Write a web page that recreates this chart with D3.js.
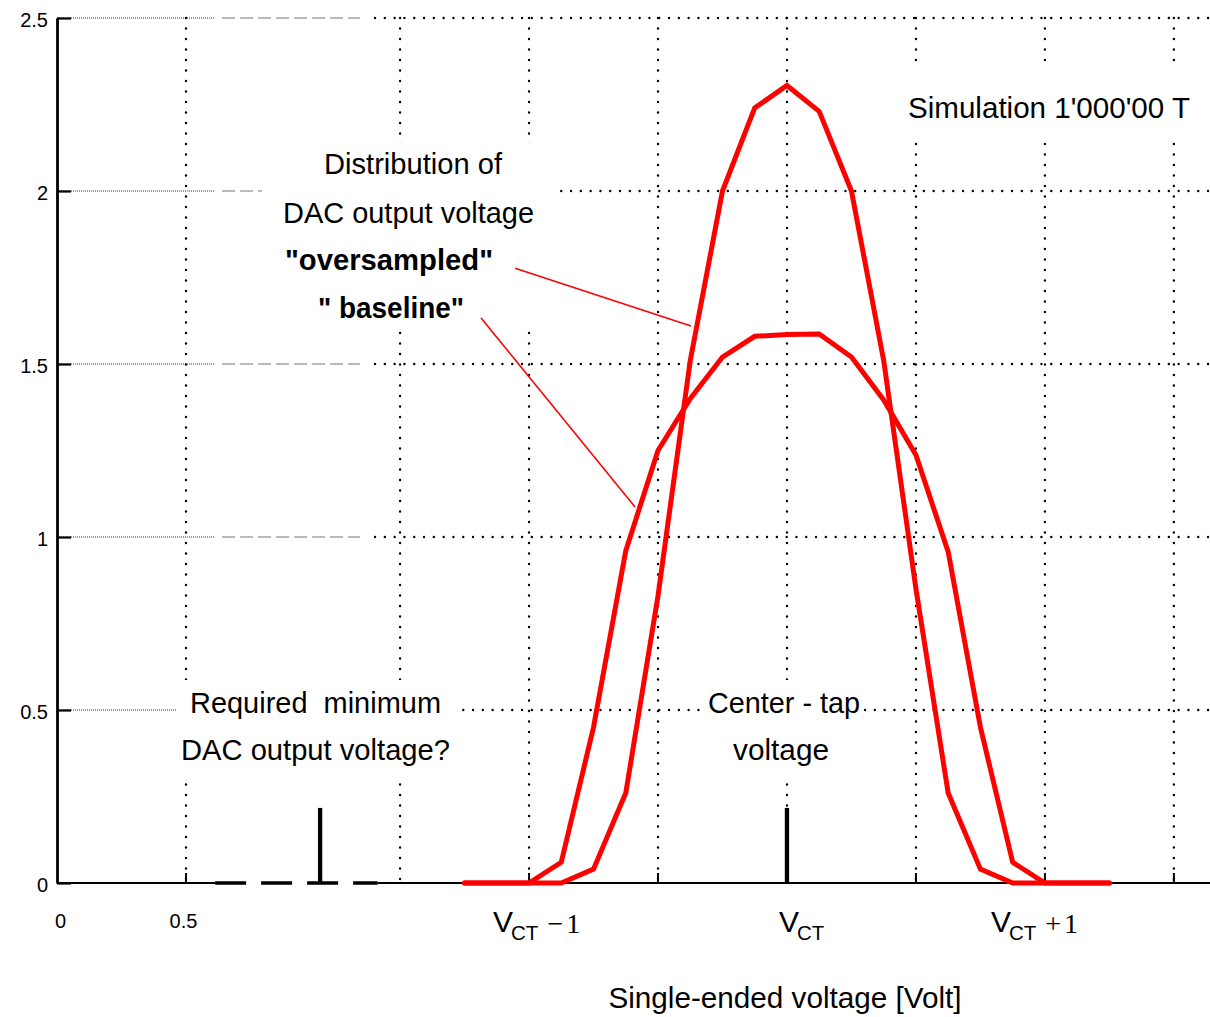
<!DOCTYPE html>
<html>
<head>
<meta charset="utf-8">
<script src="https://cdn.jsdelivr.net/npm/d3@7"></script>
<style>
  html, body { margin: 0; padding: 0; background: #fff; }
  svg { display: block; }
  text { font-family: "Liberation Sans", Arial, sans-serif; fill: #000; }
</style>
</head>
<body>
<svg id="chart" width="1210" height="1017"></svg>
<script>
// Voltage offsets from the centre-tap voltage (V)
const offsets = [-1.25, -1.125, -1, -0.875, -0.75, -0.625, -0.5, -0.375, -0.25, -0.125, 0,
                 0.125, 0.25, 0.375, 0.5, 0.625, 0.75, 0.875, 1, 1.125, 1.25];
// Distribution of the DAC output voltage, baseline modulator
const baselineDensity = [0, 0, 0, 0.06, 0.45, 0.96, 1.25, 1.40, 1.52, 1.58, 1.585,
                         1.587, 1.52, 1.396, 1.237, 0.957, 0.45, 0.06, 0, 0, 0];
// Distribution of the DAC output voltage, oversampled modulator
const oversampledDensity = [0, 0, 0, 0, 0.04, 0.26, 0.83, 1.51, 2.0, 2.24, 2.305,
                            2.23, 2.0, 1.51, 0.85, 0.26, 0.04, 0, 0, 0, 0];

const vCT = 2.83;          // centre-tap voltage on the axis
const vMin = 1.02;         // required minimum DAC output voltage
const markerHeight = 0.217;

const yTicks = [0, 0.5, 1, 1.5, 2, 2.5];
const yTickLabels = ["0", "0.5", "1", "1.5", "2", "2.5"];
const xTicks = [0, 0.5];
const xTickLabels = ["0", "0.5"];
const vctOffsets = [-1, 0, 1];
const vctSuffixes = ["\u22121", "", "+1"];
const gridOffsets = [-1.5, -1, -0.5, 0, 0.5, 1, 1.5];

const distributionLines = ["Distribution of", "DAC output voltage", "\"oversampled\"", "\" baseline\""];
const simulationLabel = "Simulation 1'000'00 T";
const minimumLines = ["Required  minimum", "DAC output voltage?"];
const centerTapLines = ["Center - tap", "voltage"];
const xTitle = "Single-ended voltage [Volt]";

// ---------------------------------------------------------------
const W = 1210, H = 1017;
const svg = d3.select("#chart");
svg.append("rect").attr("width", W).attr("height", H).attr("fill", "#fff");

const xMax = 4.47;
const x = d3.scaleLinear().domain([0, xMax]).range([57, 1210]);
const y = d3.scaleLinear().domain([0, 2.5]).range([883, 18]);

const gridG = svg.append("g");
const maskG = svg.append("g");
const axisG = svg.append("g");
const plotG = svg.append("g");
const textG = svg.append("g");

// Broken section of the voltage axis
const breakLo = 0.613, breakHi = 1.233;

// Horizontal grid
yTicks.filter(v => v > 0).forEach(v => {
  gridG.append("line")
    .attr("x1", x(0)).attr("x2", x(breakLo)).attr("y1", y(v)).attr("y2", y(v))
    .attr("stroke", "#333").attr("stroke-width", 1).attr("stroke-dasharray", "1,1");
  gridG.append("line")
    .attr("x1", x(breakLo + 0.027)).attr("x2", x(breakHi - 0.058)).attr("y1", y(v)).attr("y2", y(v))
    .attr("stroke", "#a3a3a3").attr("stroke-width", 1.6).attr("stroke-dasharray", "13,5");
  gridG.append("line")
    .attr("x1", x(breakHi)).attr("x2", x(xMax)).attr("y1", y(v)).attr("y2", y(v))
    .attr("stroke", "#000").attr("stroke-width", 2.4).attr("stroke-linecap", "round")
    .attr("stroke-dasharray", "0,9.8");
});

// Vertical grid
const gridX = [0.5].concat(gridOffsets.map(o => vCT + o));
gridX.forEach(v => {
  gridG.append("line")
    .attr("x1", x(v)).attr("x2", x(v)).attr("y1", y(2.5)).attr("y2", y(0))
    .attr("stroke", "#000").attr("stroke-width", 2.4).attr("stroke-linecap", "round")
    .attr("stroke-dasharray", "0,10.5");
});

// Y axis
const yAxis = d3.axisLeft(y)
  .tickValues(yTicks)
  .tickFormat((d, i) => yTickLabels[i])
  .tickSizeInner(-14).tickSizeOuter(0).tickPadding(9);
const yAxisG = axisG.append("g").attr("transform", `translate(${x(0)},0)`).call(yAxis);
yAxisG.select(".domain").attr("stroke", "#000").attr("stroke-width", 2.8);
yAxisG.selectAll(".tick line").attr("stroke", "#000").attr("stroke-width", 2.2);
yAxisG.selectAll(".tick text")
  .attr("font-family", "Liberation Sans, Arial, sans-serif")
  .attr("font-size", 20).attr("dy", "0.4em");

// X axis line, with the broken section drawn dashed
axisG.append("line").attr("x1", x(0)).attr("x2", x(breakLo)).attr("y1", y(0)).attr("y2", y(0))
  .attr("stroke", "#000").attr("stroke-width", 1.8);
axisG.append("line").attr("x1", x(breakLo)).attr("x2", x(breakHi + 0.01)).attr("y1", y(0)).attr("y2", y(0))
  .attr("stroke", "#000").attr("stroke-width", 3.6).attr("stroke-dasharray", "31,15");
axisG.append("line").attr("x1", x(breakHi + 0.01)).attr("x2", x(xMax)).attr("y1", y(0)).attr("y2", y(0))
  .attr("stroke", "#000").attr("stroke-width", 1.8);

// Short x ticks
const xTickMarks = [0.5].concat(gridOffsets.filter(o => o > -1.5).map(o => vCT + o));
axisG.selectAll("line.xtick").data(xTickMarks).enter().append("line")
  .attr("class", "xtick")
  .attr("x1", d => x(d)).attr("x2", d => x(d))
  .attr("y1", y(0)).attr("y2", y(0) - 10)
  .attr("stroke", "#000").attr("stroke-width", 2);

// Numeric x labels
const xAxis = d3.axisBottom(x).tickValues(xTicks)
  .tickFormat((d, i) => xTickLabels[i]).tickSize(0).tickPadding(31);
const xAxisG = axisG.append("g").attr("transform", `translate(0,${y(0)})`).call(xAxis);
xAxisG.select(".domain").remove();
xAxisG.selectAll(".tick text")
  .attr("font-family", "Liberation Sans, Arial, sans-serif")
  .attr("font-size", 20).attr("dx", (d, i) => [3, -3][i]);

// Centre-tap labels
const vctDx = [-36, -8, -54];
vctOffsets.forEach((o, i) => {
  const t = textG.append("text")
    .attr("x", x(vCT + o) + vctDx[i]).attr("y", 932);
  t.append("tspan").attr("font-size", 30).text("V");
  t.append("tspan").attr("font-size", 20.5).attr("dx", -2).attr("dy", 8).text("CT");
  if (vctSuffixes[i]) {
    t.append("tspan").attr("font-size", 28).attr("dx", 9).attr("dy", -7)
      .attr("font-family", "Liberation Serif, Times New Roman, serif")
      .attr("letter-spacing", 3).text(vctSuffixes[i]);
  }
});

// Axis title
textG.append("text")
  .attr("x", x(vCT) - 2).attr("y", 1008)
  .attr("text-anchor", "middle").attr("font-size", 29.5)
  .attr("textLength", 353).attr("lengthAdjust", "spacingAndGlyphs")
  .text(xTitle);

// Annotation blocks on white boxes
function block(lines, layout, pad) {
  const g = textG.append("g");
  lines.forEach((s, i) => {
    const L = layout[i];
    g.append("text")
      .attr("x", L[0]).attr("y", L[1])
      .attr("font-size", 29)
      .attr("font-weight", L[3] ? "bold" : "normal")
      .attr("textLength", L[2]).attr("lengthAdjust", "spacingAndGlyphs")
      .style("white-space", "pre")
      .text(s);
  });
  const b = g.node().getBBox();
  maskG.append("rect")
    .attr("x", b.x - pad[0]).attr("y", b.y - pad[1])
    .attr("width", b.width + pad[0] + pad[2]).attr("height", b.height + pad[1] + pad[3])
    .attr("fill", "#fff");
}

block(distributionLines,
  [[324, 174, 178, false], [283, 223, 251, false], [285, 270, 208, true], [318, 318, 146, true]],
  [21, 5, 21, 5]);
block([simulationLabel], [[908, 118, 282, false]], [8, 23, 22, 17]);
block(minimumLines, [[190, 713, 251, false], [181, 760, 269, false]], [4, 7, 5, 11]);
block(centerTapLines, [[708, 713, 152, false], [733, 760, 96, false]], [8, 7, 2, 11]);

// Distribution curves
const line = d3.line().x(d => x(vCT + d[0])).y(d => y(d[1]));
const baseData = offsets.map((o, i) => [o, baselineDensity[i]]);
const overData = offsets.map((o, i) => [o, oversampledDensity[i]]);
[baseData, overData].forEach(data => {
  plotG.append("path").datum(data)
    .attr("d", line)
    .attr("fill", "none").attr("stroke", "#ff0000")
    .attr("stroke-width", 5).attr("stroke-linejoin", "miter").attr("stroke-linecap", "round");
});

// Leader lines from the labels to the curves
const leaders = [
  [[-1.054, 1.777], [-0.372, 1.61]],
  [[-1.186, 1.633], [-0.589, 1.087]]
];
leaders.forEach(l => {
  plotG.append("line")
    .attr("x1", x(vCT + l[0][0])).attr("y1", y(l[0][1]))
    .attr("x2", x(vCT + l[1][0])).attr("y2", y(l[1][1]))
    .attr("stroke", "#ff0000").attr("stroke-width", 1.6);
});

// Voltage markers
[vMin, vCT].forEach(v => {
  plotG.append("line")
    .attr("x1", x(v)).attr("x2", x(v))
    .attr("y1", y(0)).attr("y2", y(markerHeight))
    .attr("stroke", "#000").attr("stroke-width", 4.3);
});
</script>
</body>
</html>
